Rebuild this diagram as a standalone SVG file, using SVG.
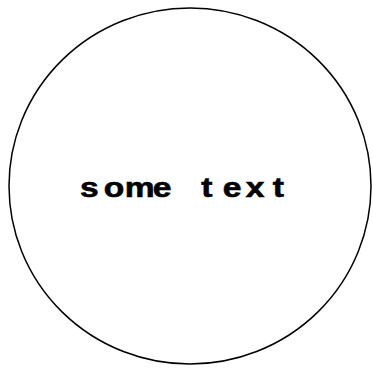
<svg xmlns="http://www.w3.org/2000/svg" width="373" height="372" viewBox="0 0 373 372">
<style>
.node-shape{fill:#ffffff;stroke:#000000;stroke-width:1.5}
.label{font-family:"Liberation Sans",Arial,sans-serif;font-weight:bold;font-size:28px;fill:#000000;stroke:#000000;stroke-width:0.6}
</style>
<rect width="373" height="372" fill="#ffffff"/>
<g id="connectors"/>
<g id="node-circle">
<ellipse class="node-shape" cx="190" cy="186" rx="181" ry="178"/>
<text class="label" transform="scale(1.2,1)" x="66.7 86.4 103.9 127.2 150 167.8 185.6 204.8 227.3" y="197.5">some text</text>
</g>
</svg>
